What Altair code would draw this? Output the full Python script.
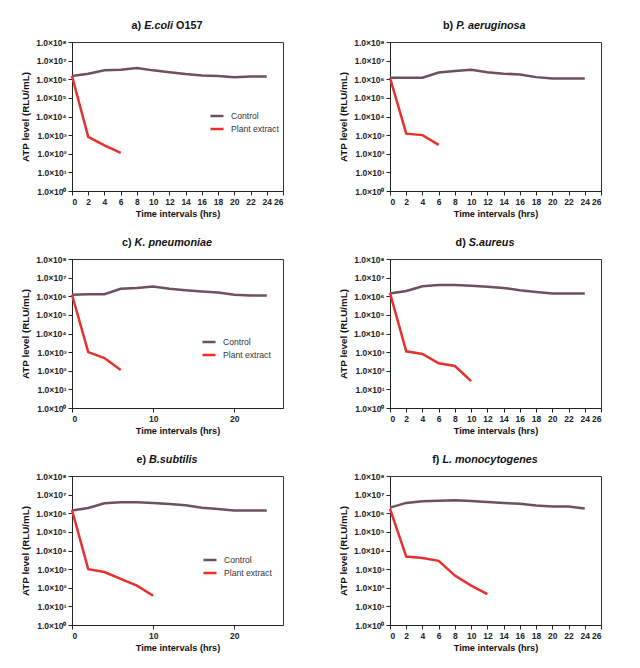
import altair as alt
import pandas as pd

# ---------------- data ----------------
hours = [0, 2, 4, 6, 8, 10, 12, 14, 16, 18, 20, 22, 24]

ecoli_control = [1.5e6, 2.0e6, 3.0e6, 3.2e6, 4.0e6, 3.0e6, 2.4e6, 1.9e6, 1.6e6, 1.5e6, 1.3e6, 1.4e6, 1.4e6]
ecoli_plant_hours = [0, 2, 4, 6]
ecoli_plant = [1.5e6, 800, 280, 110]

paer_control = [1.2e6, 1.2e6, 1.2e6, 2.3e6, 2.8e6, 3.2e6, 2.4e6, 2.0e6, 1.8e6, 1.3e6, 1.1e6, 1.1e6, 1.1e6]
paer_plant_hours = [0, 2, 4, 6]
paer_plant = [1.2e6, 1200, 1000, 300]

kpn_control = [1.2e6, 1.3e6, 1.3e6, 2.5e6, 2.8e6, 3.3e6, 2.5e6, 2.1e6, 1.8e6, 1.6e6, 1.2e6, 1.1e6, 1.1e6]
kpn_plant_hours = [0, 2, 4, 6]
kpn_plant = [1.2e6, 1000, 480, 110]

saur_control = [1.4e6, 1.9e6, 3.4e6, 4.0e6, 4.0e6, 3.7e6, 3.2e6, 2.8e6, 2.1e6, 1.7e6, 1.4e6, 1.4e6, 1.4e6]
saur_plant_hours = [0, 2, 4, 6, 8, 10]
saur_plant = [1.5e6, 1100, 800, 250, 180, 28]

bsub_control = [1.4e6, 1.9e6, 3.4e6, 3.9e6, 3.9e6, 3.6e6, 3.1e6, 2.7e6, 2.0e6, 1.7e6, 1.4e6, 1.4e6, 1.4e6]
bsub_plant_hours = [0, 2, 4, 6, 8, 10]
bsub_plant = [1.5e6, 1000, 700, 300, 130, 37]

lmono_control = [2.0e6, 3.6e6, 4.4e6, 4.7e6, 5.0e6, 4.5e6, 4.0e6, 3.6e6, 3.2e6, 2.6e6, 2.3e6, 2.3e6, 1.8e6]
lmono_plant_hours = [0, 2, 4, 6, 8, 10, 12]
lmono_plant = [1.7e6, 4700, 4000, 2800, 450, 130, 45]

series_names = ["Control", "Plant extract"]
series_colors = ["#6E5060", "#E8302C"]
y_ticks = [1, 10, 100, 1e3, 1e4, 1e5, 1e6, 1e7, 1e8]
x_ticks_full = list(range(0, 27, 2))
x_ticks_coarse = [0, 10, 20]

panels = [
    # prefix, italic name, suffix, control, plant hours, plant, x ticks, legend x, legend y
    ("a)", "E.coli", "O157", ecoli_control, ecoli_plant_hours, ecoli_plant, x_ticks_full, 137, 66),
    ("b)", "P. aeruginosa", "", paer_control, paer_plant_hours, paer_plant, x_ticks_full, 131, 78),
    ("c)", "K. pneumoniae", "", kpn_control, kpn_plant_hours, kpn_plant, x_ticks_coarse, 129, 75),
    ("d)", "S.aureus", "", saur_control, saur_plant_hours, saur_plant, x_ticks_full, 137, 69),
    ("e)", "B.subtilis", "", bsub_control, bsub_plant_hours, bsub_plant, x_ticks_coarse, 130, 76),
    ("f)", "L. monocytogenes", "", lmono_control, lmono_plant_hours, lmono_plant, x_ticks_full, 139, 67),
]

FONT = "Liberation Sans"
W, H = 211, 149
TITLE_SIZE = 10.8

# Arial Bold advance widths (per 1000 em) for title layout
CW = {' ': 278, '.': 278, ')': 333, '1': 556, '5': 556, '7': 556,
      'a': 556, 'b': 611, 'c': 556, 'd': 611, 'e': 556, 'f': 333, 'g': 611, 'h': 611,
      'i': 278, 'k': 556, 'l': 278, 'm': 889, 'n': 611, 'o': 611, 'p': 611, 'r': 389,
      's': 556, 't': 333, 'u': 611, 'y': 556, 'B': 722, 'E': 667, 'K': 722, 'L': 611,
      'O': 778, 'P': 667, 'S': 667}


def tw(s):
    return sum(CW.get(ch, 556) for ch in s) * TITLE_SIZE / 1000.0


label_expr = ("'1.0\u00d710' + ['\u2070','\u00b9','\u00b2','\u00b3','\u2074','\u2075','\u2076','\u2077','\u2078']"
              "[round(log(datum.value)/LN10)]")


def make_panel(prefix, name, suffix, control, p_hours, plant, xticks, lx, ly):
    rows = []
    for h, v in zip(hours, control):
        rows.append({"hrs": h, "atp": v, "series": series_names[0]})
    for h, v in zip(p_hours, plant):
        rows.append({"hrs": h, "atp": v, "series": series_names[1]})
    df = pd.DataFrame(rows)

    lines = alt.Chart(df).mark_line(strokeWidth=2.5).encode(
        x=alt.X("hrs:Q", scale=alt.Scale(domain=[0, 26], nice=False, zero=False),
                axis=alt.Axis(values=xticks, title="Time intervals (hrs)", format="d")),
        y=alt.Y("atp:Q", scale=alt.Scale(type="log", domain=[1, 1e8], nice=False),
                axis=alt.Axis(values=y_ticks, labelExpr=label_expr, title="ATP level (RLU/mL)")),
        color=alt.Color("series:N",
                        scale=alt.Scale(domain=series_names, range=series_colors),
                        legend=alt.Legend(orient="none", legendX=lx, legendY=ly, title=None,
                                          symbolType="stroke", symbolStrokeWidth=2.5,
                                          symbolSize=170, labelFontSize=8.6, labelFont=FONT,
                                          labelColor="#333333", rowPadding=0,
                                          labelOffset=6)),
        order=alt.Order("hrs:Q"),
    )

    # title made of pieces (normal / italic)
    pieces = [(prefix, "normal", tw(prefix + " ")), (name, "italic", tw(name))]
    if suffix:
        pieces[-1] = (name, "italic", tw(name + " "))
        pieces.append((suffix, "normal", tw(suffix)))
    total = sum(p[2] for p in pieces)
    x0 = 95 - total / 2.0
    layers = [lines]
    for t, style, wdt in pieces:
        layers.append(
            alt.Chart(pd.DataFrame({"t": [t]})).mark_text(
                align="left", baseline="middle", font=FONT, fontSize=TITLE_SIZE,
                fontWeight="bold", fontStyle=style, color="#111111"
            ).encode(text="t:N", x=alt.value(x0), y=alt.value(-16))
        )
        x0 += wdt
    return alt.layer(*layers).properties(width=W, height=H)


charts = [make_panel(*p) for p in panels]
grid = alt.vconcat(
    alt.hconcat(charts[0], charts[1], spacing=54),
    alt.hconcat(charts[2], charts[3], spacing=54),
    alt.hconcat(charts[4], charts[5], spacing=54),
    spacing=16,
).resolve_legend(color="independent").resolve_scale(color="independent")

chart = grid.configure_view(stroke="#333333", strokeWidth=1).configure_axis(
    grid=False, domainColor="#222222", domainWidth=1, tickColor="#222222", tickSize=4,
    labelFont=FONT, labelFontSize=8.5, labelFontWeight="bold", labelColor="#222222",
    titleFont=FONT, titleFontWeight="bold", titleColor="#111111",
    labelPadding=2,
).configure_axisY(titleFontSize=9.8, titlePadding=5).configure_axisX(
    titleFontSize=9.2, titlePadding=4
).properties(padding={"left": 12, "top": 11, "right": 5, "bottom": 5}, background="white")

chart.save("out.html", embed_options={"renderer": "svg", "actions": False})
